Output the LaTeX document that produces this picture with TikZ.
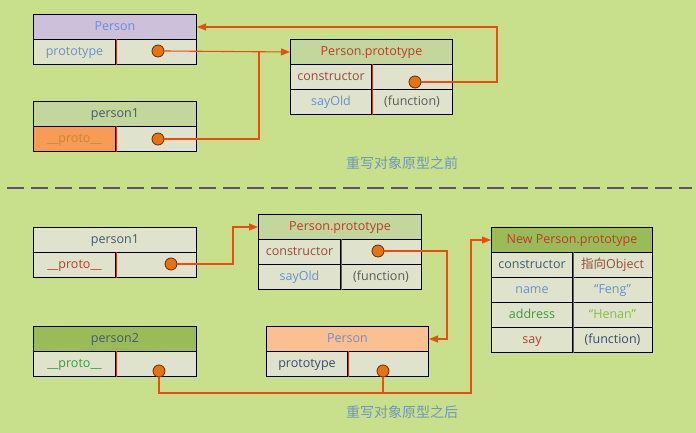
\documentclass[tikz,border=0pt]{standalone}
\usepackage{fontspec}
\setmainfont{Open Sans}
\newfontfamily\cjk{Noto Sans CJK SC}
\usetikzlibrary{arrows.meta}
\definecolor{bg}{HTML}{C8DF8B}
\definecolor{rowc}{HTML}{DFE3CC}
\definecolor{lav}{HTML}{CCC0DA}
\definecolor{lgreen}{HTML}{C3D69B}
\definecolor{dgreen}{HTML}{9BBB59}
\definecolor{peach}{HTML}{FAC090}
\definecolor{orfill}{HTML}{F79B55}
\definecolor{blueT}{HTML}{6B8FD0}
\definecolor{redT}{HTML}{C0392B}
\definecolor{brownT}{HTML}{9A4A3A}
\definecolor{greyT}{HTML}{5A5A5A}
\definecolor{slateT}{HTML}{44586C}
\definecolor{greenT}{HTML}{3A9A3A}
\definecolor{lgreenT}{HTML}{8ABA4A}
\definecolor{orT}{HTML}{C5863F}
\definecolor{navyT}{HTML}{3A4A6A}
\definecolor{arrc}{HTML}{F04A10}
\definecolor{dotf}{HTML}{E8720C}
\definecolor{dotb}{HTML}{5A3010}
\definecolor{capc}{HTML}{7096C0}
\definecolor{dashc}{HTML}{5E5070}
\definecolor{divc}{HTML}{C0392B}
\begin{document}
\begin{tikzpicture}[x=1pt,y=-1pt,
  cell/.style={draw=black, line width=1pt, fill=rowc, minimum height=25pt, inner sep=0pt, text height=9pt, text depth=2.5pt, anchor=north west, font=\fontsize{12.5}{14}\selectfont},
  hdr/.style={cell, minimum width=163pt},
  divline/.style={draw=divc, line width=1pt},
  pdot/.style={circle, draw=dotb, fill=dotf, minimum size=12pt, inner sep=0pt, line width=0.8pt},
  conn/.style={draw=arrc, line width=1.1pt},
  arr/.style={conn, -{Triangle[length=9pt,width=7pt]}},
  captxt/.style={text=capc, font=\cjk\fontsize{14}{16}\selectfont}
]
\fill[bg] (0,0) rectangle (696,433);
\useasboundingbox (0,0) rectangle (696,433);

% ---------- top: before ----------
\node[hdr, fill=lav, text=blueT] (tPer) at (33,14) {Person};
\node[cell, minimum width=82pt, text=blueT] (tPerL) at (33,39) {prototype};
\node[cell, minimum width=81pt] (tPerR) at (115,39) {};
\draw[divline] (tPerL.north east) -- (tPerL.south east);

\node[hdr, fill=lgreen, text=slateT] (tP1) at (33,101) {person1};
\node[cell, minimum width=82pt, fill=orfill, text=orT] (tP1L) at (33,126) {\_\_proto\_\_};
\node[cell, minimum width=81pt] (tP1R) at (115,126) {};
\draw[divline] (tP1L.north east) -- (tP1L.south east);

\node[cell, minimum width=162pt, fill=lgreen, text=redT] (tPP) at (290,39) {Person.prototype};
\node[cell, minimum width=81pt, text=brownT] (tPPc) at (290,64) {constructor};
\node[cell, minimum width=81pt] (tPPcR) at (371,64) {};
\node[cell, minimum width=81pt, text=blueT] (tPPs) at (290,89) {sayOld};
\node[cell, minimum width=81pt, text=greyT] (tPPsR) at (371,89) {(function)};
\draw[divline] (tPPc.north east) -- (tPPs.south east);

\node[pdot] (d1) at (158,51) {};
\node[pdot] (d2) at (158,139) {};
\node[pdot] (d3) at (415,82) {};

\coordinate (j1) at (259,139);
\coordinate (k1) at (497,82);
\draw[arr] (d1.east) -- (tPP.west);
\draw[conn] (d2.east) -- (j1) -- (j1 |- tPP.west);
\draw[arr] (d3.east) -- (k1) |- (tPer.east);

\node[captxt] (cap1) at (402,163) {重写对象原型之前};

% ---------- separator ----------
\coordinate (dl) at (7,188);
\coordinate (dr) at (692,188);
\draw[draw=dashc, line width=2.2pt, dash pattern=on 17pt off 7pt] (dl) -- (dr);

% ---------- bottom: after ----------
\node[hdr, text=slateT] (bP1) at (33,227) {person1};
\node[cell, minimum width=82pt, text=redT] (bP1L) at (33,252) {\_\_proto\_\_};
\node[cell, minimum width=81pt] (bP1R) at (115,252) {};
\draw[divline] (bP1L.north east) -- (bP1L.south east);

\node[hdr, fill=dgreen, text=slateT] (bP2) at (33,326) {person2};
\node[cell, minimum width=82pt, text=greenT] (bP2L) at (33,351) {\_\_proto\_\_};
\node[cell, minimum width=81pt] (bP2R) at (115,351) {};
\draw[divline] (bP2L.north east) -- (bP2L.south east);

\node[cell, minimum width=163pt, fill=lgreen, text=redT] (bPP) at (258,214) {Person.prototype};
\node[cell, minimum width=82pt, text=brownT] (bPPc) at (258,239) {constructor};
\node[cell, minimum width=81pt] (bPPcR) at (340,239) {};
\node[cell, minimum width=82pt, text=blueT] (bPPs) at (258,264) {sayOld};
\node[cell, minimum width=81pt, text=greyT] (bPPsR) at (340,264) {(function)};
\draw[divline] (bPPc.north east) -- (bPPs.south east);

\node[cell, minimum width=162pt, fill=peach, text=blueT] (bPer) at (266,326) {Person};
\node[cell, minimum width=81pt, text=navyT] (bPerL) at (266,351) {prototype};
\node[cell, minimum width=81pt] (bPerR) at (347,351) {};
\draw[divline] (bPerL.north east) -- (bPerL.south east);

\node[cell, minimum width=161pt, fill=dgreen, text=redT] (nPP) at (491,227) {New Person.prototype};
\node[cell, minimum width=81pt, text=slateT] (nC) at (491,252) {constructor};
\node[cell, minimum width=80pt, text=brownT] (nCR) at (572,252) {{\cjk 指向}Object};
\node[cell, minimum width=81pt, text=blueT] (nN) at (491,277) {name};
\node[cell, minimum width=80pt, text=blueT] (nNR) at (572,277) {“Feng”};
\node[cell, minimum width=81pt, text=greenT] (nA) at (491,302) {address};
\node[cell, minimum width=80pt, text=lgreenT] (nAR) at (572,302) {“Henan”};
\node[cell, minimum width=81pt, text=redT] (nS) at (491,327) {say};
\node[cell, minimum width=80pt, text=navyT] (nSR) at (572,327) {(function)};
\draw[divline] (nC.north east) -- (nS.south east);

\node[pdot] (d4) at (171,264) {};
\node[pdot] (d5) at (378,251) {};
\node[pdot] (d6) at (159,371) {};
\node[pdot] (d7) at (383,371) {};

\coordinate (j2) at (233,264);
\coordinate (k2) at (447,251);
\coordinate (m1) at (471,393);
\draw[arr] (d4.east) -- (j2) |- (bPP.west);
\draw[arr] (d5.east) -- (k2) |- (bPer.east);
\draw[arr] (d6.south) |- (m1) |- (nPP.west);
\draw[conn] (d7.south) -- (d7.south |- m1);

\node[captxt] (cap2) at (402,412) {重写对象原型之后};
\end{tikzpicture}
\end{document}
